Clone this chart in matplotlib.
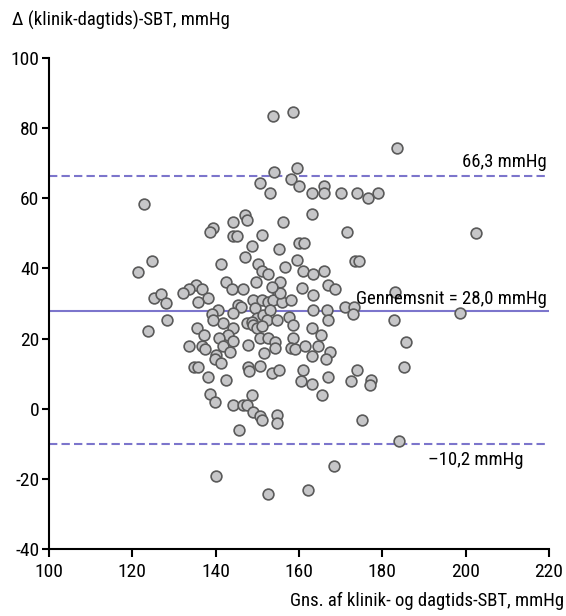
import matplotlib
matplotlib.use("Agg")
import matplotlib.pyplot as plt

plt.rcParams['font.family'] = ['Roboto Condensed', 'DejaVu Sans Condensed',
                               'Liberation Sans Narrow', 'DejaVu Sans']
plt.rcParams['font.stretch'] = 'condensed'
plt.rcParams['axes.unicode_minus'] = False

# Bland-Altman data: mean of clinic and daytime SBT (x), difference (y)
mean_sbt = [
    153.8, 158.6, 183.4, 154.1, 159.6, 150.6, 153.0, 158.0, 160.0, 163.0,
    166.0, 166.0, 170.0, 174.0, 176.5, 178.9, 122.9, 147.0, 147.4, 144.1,
    156.1, 163.0, 139.3, 138.6, 144.1, 145.2, 151.0, 171.4, 202.4, 148.6,
    155.1, 160.0, 161.1,
    147.0, 141.2, 124.8, 121.3, 150.1, 151.0, 152.6, 156.6, 159.5, 161.0,
    163.4, 166.0, 173.4, 174.5, 142.6, 149.6, 155.4, 167.0,
    143.8, 146.6, 135.3, 133.7, 132.2, 136.8, 138.2, 135.8, 125.1, 126.9,
    128.0, 168.6, 155.0, 160.6, 163.4, 183.0, 149.0, 151.0, 152.6, 153.8,
    155.8, 158.0, 155.4, 153.4,
    145.4, 146.2, 144.2, 140.6, 139.0, 141.8, 139.4, 149.4, 149.8, 151.4,
    153.0, 152.4, 154.8, 157.5, 163.4, 166.6, 171.0, 173.2, 173.0, 167.0,
    182.9, 198.6, 128.3, 147.4, 148.6,
    123.8, 135.4, 137.1, 144.2, 143.0, 140.8, 144.2, 141.8, 149.0, 149.8,
    151.0, 150.6, 152.6, 158.6, 158.6, 163.0, 165.2, 154.2, 185.6, 147.7,
    133.7, 136.8, 137.4, 143.4, 140.2, 139.8, 141.3, 154.2, 151.6, 158.0,
    159.0, 161.4, 164.6, 163.0, 167.4, 166.4, 134.7, 135.7, 147.8, 148.1,
    150.6, 185.2,
    138.2, 142.6, 153.6, 155.1, 161.0, 160.5, 163.0, 167.0, 173.9, 172.4,
    177.2, 177.0,
    138.6, 139.8, 144.2, 146.5, 147.5, 148.6, 149.0, 150.6, 151.2, 154.6,
    154.6, 165.4, 175.0, 145.7, 140.2, 152.6, 162.1, 168.5, 184.0,
]
diff_sbt = [
    83.5, 84.5, 74.4, 67.4, 68.5, 64.4, 61.4, 65.4, 63.5, 61.4,
    63.5, 61.4, 61.4, 61.4, 60.2, 61.4, 58.3, 55.2, 53.9, 53.3,
    53.3, 55.4, 51.6, 50.3, 49.2, 49.2, 49.4, 50.3, 50.2, 46.4,
    45.5, 47.2, 47.2,
    43.4, 41.3, 42.2, 39.1, 41.4, 39.3, 38.4, 40.4, 42.3, 39.2,
    38.4, 39.3, 42.2, 42.2, 36.2, 36.2, 36.2, 35.3,
    34.0, 34.0, 35.4, 34.1, 33.1, 34.1, 31.5, 30.5, 31.5, 32.6,
    30.2, 34.1, 33.0, 34.3, 32.4, 33.4, 31.0, 31.1, 30.5, 31.0,
    30.5, 31.1, 32.9, 34.8,
    29.6, 29.1, 27.4, 28.1, 26.9, 24.5, 25.3, 28.8, 26.0, 26.7,
    28.1, 25.3, 25.3, 26.2, 28.1, 28.1, 29.1, 29.1, 27.1, 25.3,
    25.3, 27.2, 25.3, 24.3, 24.8,
    22.2, 23.1, 21.1, 23.0, 21.0, 20.2, 19.3, 18.0, 23.8, 22.9,
    23.7, 20.3, 20.1, 24.0, 20.3, 23.0, 21.0, 19.1, 19.1, 18.1,
    18.0, 18.0, 16.9, 16.1, 15.3, 14.1, 13.0, 17.2, 16.0, 17.2,
    17.0, 17.9, 17.9, 15.0, 16.1, 14.1, 12.0, 12.0, 12.0, 10.8,
    12.1, 12.0,
    9.1, 8.1, 10.1, 11.0, 11.0, 7.8, 7.1, 9.1, 11.0, 7.9,
    8.2, 6.9,
    4.2, 1.9, 1.0, 1.0, 1.0, 4.0, -1.0, -2.2, -3.3, -1.8,
    -4.1, 4.0, -3.2, -6.1, -19.2, -24.3, -23.2, -16.3, -9.2,
]

mean_diff = 28.0
upper_loa = 66.3
lower_loa = -10.2

x_ticks = [100, 120, 140, 160, 180, 200, 220]
y_ticks = [-40, -20, 0, 20, 40, 60, 80, 100]

fig = plt.figure(figsize=(5.66, 6.16), dpi=100)
ax = fig.add_axes([49 / 566, 67 / 616, 500 / 566, 491 / 616])

line_color = '#7c75cc'
ax.axhline(mean_diff, color=line_color, lw=1.5, zorder=1)
for v in (upper_loa, lower_loa):
    ln = ax.axhline(v, color=line_color, lw=1.5, zorder=1)
    ln.set_dashes((4, 2))

ax.scatter(mean_sbt, diff_sbt, s=60, facecolor='#c6c6c8', edgecolor='#5a5a5a',
           linewidths=1.2, zorder=3)

ax.set_xlim(100, 220)
ax.set_ylim(-40, 100)
ax.set_xticks(x_ticks)
ax.set_yticks(y_ticks)
ax.tick_params(axis='both', direction='out', width=1.5,
               labelsize=14, color='black')
ax.tick_params(axis='x', length=6, pad=4)
ax.tick_params(axis='y', length=5, pad=2)

for s in ('top', 'right'):
    ax.spines[s].set_visible(False)
for s in ('left', 'bottom'):
    ax.spines[s].set_linewidth(1.5)

fs = 13.5
ax.annotate('66,3 mmHg', xy=(219.5, upper_loa), xytext=(0, 4),
            textcoords='offset points', ha='right', va='bottom', fontsize=fs)
ax.annotate('Gennemsnit = 28,0 mmHg', xy=(219.5, mean_diff), xytext=(0, 2),
            textcoords='offset points', ha='right', va='bottom', fontsize=fs)
ax.annotate('\u201310,2 mmHg', xy=(213.8, lower_loa), xytext=(0, -5),
            textcoords='offset points', ha='right', va='top', fontsize=fs)

fig.text(12 / 566, 1 - 20 / 616, '\u0394 (klinik-dagtids)-SBT, mmHg',
         ha='left', va='center', fontsize=fs)
fig.text(564 / 566, 1 - 601 / 616, 'Gns. af klinik- og dagtids-SBT, mmHg',
         ha='right', va='center', fontsize=fs)

fig.savefig('out.png', dpi=100)
